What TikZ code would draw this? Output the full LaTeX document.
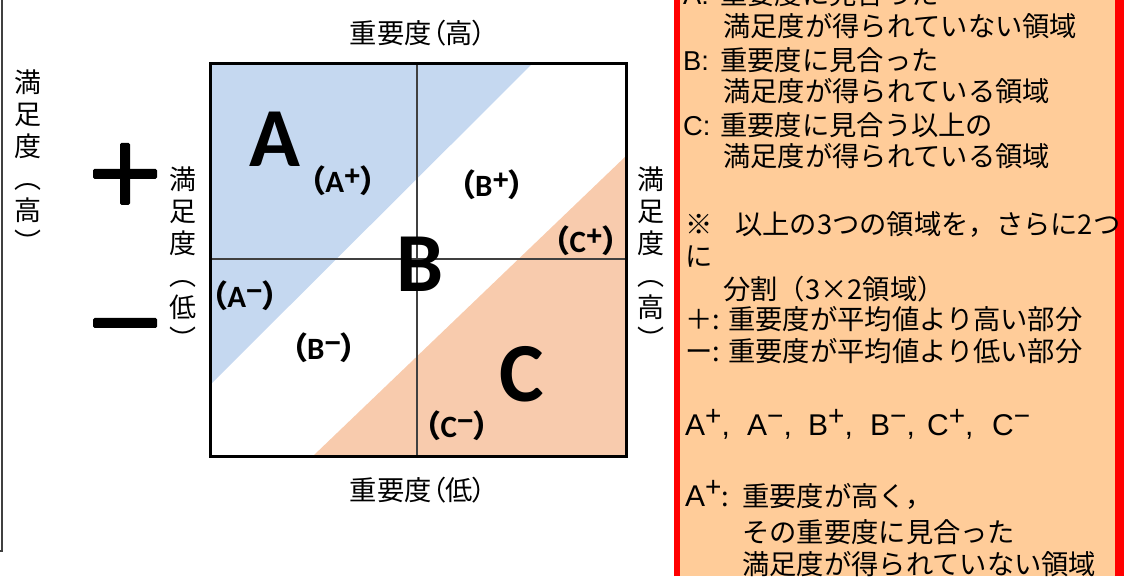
\documentclass[tikz,border=0pt]{standalone}
\usepackage{fontspec}
\setmainfont{Noto Sans CJK JP}
\newfontfamily\jpp[RawFeature=+palt]{Noto Sans CJK JP}
\newfontfamily\carl{Carlito}
\newfontfamily\arl{Liberation Sans}
\newcommand\myfs[1]{\fontsize{#1}{#1}\selectfont}
\newcommand\pfx[2]{\makebox[#1][l]{#2}}
\newcommand\spp[1]{\raisebox{10pt}{\arl\myfs{28}#1}}
\newcommand\sqlab[2]{{\jpp\bfseries （}{\carl\bfseries #1}\raisebox{7pt}{\arl\bfseries\myfs{28}#2}{\jpp\bfseries ）}}
\definecolor{panelfill}{HTML}{FFCC99}
\definecolor{bluefill}{HTML}{C5D8F0}
\definecolor{orangefill}{HTML}{F8CBAD}
\definecolor{midgray}{HTML}{404040}
\begin{document}
\begin{tikzpicture}[x=1pt,y=1pt,
  jp/.style={inner sep=0pt, font=\myfs{27.3}},
  pl/.style={jp, anchor=base west},
  big/.style={inner sep=0pt, anchor=base, font=\carl\bfseries\myfs{84}},
  sl/.style={inner sep=0pt, anchor=base, font=\myfs{31}},
  vl/.style={inner sep=0pt, anchor=north, align=center, font=\fontsize{27}{32}\selectfont},
  midline/.style={draw=midgray, line width=1.5pt},
  frame/.style={draw=black, line width=3pt},
  sign/.style={fill=black, rounded corners=1.5pt}]
\useasboundingbox (0,0) rectangle (1124,576);

% right panel
\fill[panelfill] (677,0) rectangle (1124,576);
\draw[red, line width=6pt] (677,0) -- (677,576);
\draw[red, line width=9pt] (1119.5,0) -- (1119.5,576);

\node[pl] (p0) at (683,571) {\pfx{37pt}{\arl A:}重要度に見合った};
\node[pl] (p1) at (723,539) {満足度が得られていない領域};
\node[pl] (p2) at (683,505.5) {\pfx{37pt}{\arl B:}重要度に見合った};
\node[pl] (p3) at (723,474) {満足度が得られている領域};
\node[pl] (p4) at (683,440) {\pfx{37pt}{\arl C:}重要度に見合う以上の};
\node[pl] (p5) at (723,409) {満足度が得られている領域};
\node[pl] (p7) at (685,341) {\pfx{50pt}{※}以上の3つの領域を，さらに2つ};
\node[pl] (p8) at (685,309) {に};
\node[pl] (p9) at (723,276) {分割（3×2領域）};
\node[pl] (p10) at (685,246) {\pfx{43pt}{＋:}重要度が平均値より高い部分};
\node[pl] (p11) at (685,214) {\pfx{43pt}{ー:}重要度が平均値より低い部分};
\node[pl] (p13) at (685,141) {\arl\myfs{30}\pfx{62pt}{A\spp{+},}\pfx{61pt}{A\spp{−},}\pfx{62pt}{B\spp{+},}\pfx{57pt}{B\spp{−},}\pfx{65pt}{C\spp{+},}C\spp{−}};
\node[pl] (p15) at (685,70) {\pfx{57pt}{{\arl\myfs{30}A}\spp{+}:}重要度が高く，};
\node[pl] (p16) at (742,34) {その重要度に見合った};
\node[pl] (p17) at (742,2) {満足度が得られていない領域};

% square
\fill[bluefill] (210,512) -- (532,512) -- (210,191) -- cycle;
\fill[orangefill] (626,420) -- (313,120) -- (626,120) -- cycle;
\draw[midline] (417,120) -- (417,512);
\draw[midline] (210,317) -- (626,317);
\draw[frame] (210,120) rectangle (626,512);

\node[big] (bigA) at (275,409) {A};
\node[big] (bigB) at (420,284) {B};
\node[big] (bigC) at (522,175) {C};
\node[sl] (ap) at (343,383) {\sqlab{A}{+}};
\node[sl] (bp) at (492,379) {\sqlab{B}{+}};
\node[sl] (cp) at (586,323) {\sqlab{C}{+}};
\node[sl] (am) at (245,268) {\sqlab{A}{−}};
\node[sl] (bm) at (324,216) {\sqlab{B}{−}};
\node[sl] (cm) at (457,139) {\sqlab{C}{−}};

% axis labels
\node[jp, anchor=base] (top) at (418,532) {重要度{\jpp（}高{\jpp）}};
\node[jp, anchor=base] (bot) at (418,76) {重要度{\jpp（}低{\jpp）}};
\node[vl] (vl1) at (28,506) {満\\足\\度\\︵\\高\\︶};
\node[vl] (vl2) at (183,409) {満\\足\\度\\︵\\低\\︶};
\node[vl] (vl3) at (651,409) {満\\足\\度\\︵\\高\\︶};

% plus and minus signs
\fill[sign] (93,397) rectangle (157,407);
\fill[sign] (120,371) rectangle (130,433);
\fill[sign] (93,248) rectangle (157,258);

% left frame line
\draw[midgray, line width=1.2pt] (0,25) -- (2,25) -- (2,576);
\end{tikzpicture}
\end{document}
